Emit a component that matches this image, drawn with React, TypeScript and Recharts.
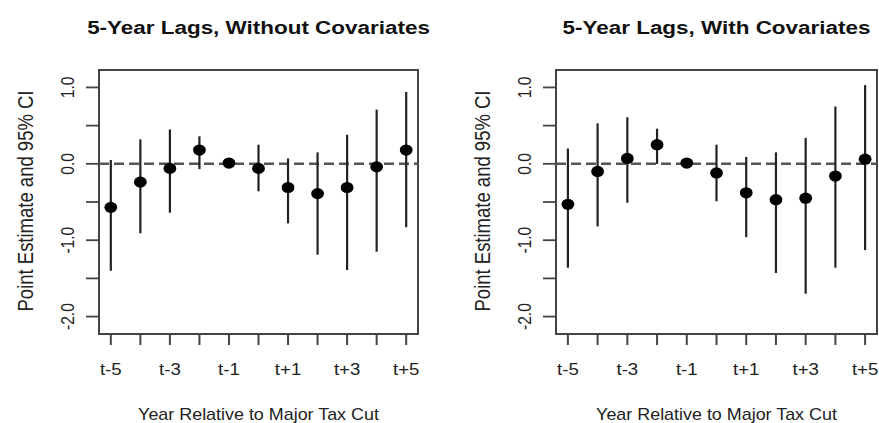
import React from 'react';
import {
  ComposedChart,
  Scatter,
  ErrorBar,
  XAxis,
  YAxis,
  ReferenceLine,
  ReferenceArea,
} from 'recharts';

// Categories (years relative to the major tax cut)
const categories = ['t-5', 't-4', 't-3', 't-2', 't-1', 't', 't+1', 't+2', 't+3', 't+4', 't+5'];
const yearOffsets = [-5, -4, -3, -2, -1, 0, 1, 2, 3, 4, 5];

// Panel 1: without covariates
const estNoCov = [-0.57, -0.24, -0.06, 0.18, 0.01, -0.06, -0.31, -0.39, -0.31, -0.04, 0.18];
const loNoCov = [-1.4, -0.91, -0.64, -0.07, 0.01, -0.36, -0.78, -1.19, -1.39, -1.15, -0.83];
const hiNoCov = [0.05, 0.32, 0.45, 0.36, 0.01, 0.25, 0.07, 0.15, 0.38, 0.71, 0.94];

// Panel 2: with covariates
const estCov = [-0.53, -0.1, 0.07, 0.25, 0.01, -0.12, -0.38, -0.47, -0.45, -0.16, 0.06];
const loCov = [-1.36, -0.82, -0.51, 0.0, 0.01, -0.49, -0.96, -1.43, -1.7, -1.36, -1.13];
const hiCov = [0.2, 0.53, 0.61, 0.46, 0.01, 0.25, 0.09, 0.15, 0.34, 0.75, 1.03];

const yTicks = [-2, -1.5, -1, -0.5, 0, 0.5, 1];
const titles = ['5-Year Lags, Without Covariates', '5-Year Lags, With Covariates'];
const xLabel = 'Year Relative to Major Tax Cut';
const yLabel = 'Point Estimate and 95% CI';

const FONT = '"Liberation Sans", Arial, sans-serif';
const SX = 1.2; // horizontal stretch of the reference (rotated text)
const X_DOMAIN: [number, number] = [-5.4, 5.4];
const Y_DOMAIN: [number, number] = [-2.228, 1.228];

function buildRows(est: number[], lo: number[], hi: number[]) {
  return yearOffsets.map((x, i) => ({
    x,
    label: categories[i],
    est: est[i],
    err: [est[i] - lo[i], hi[i] - est[i]],
  }));
}

const XTick = (props: any) => {
  const { x, y, index } = props;
  if (index % 2 !== 0) return <g />;
  return (
    <text
      transform={`translate(${x},${y + 30}) scale(1.13,1)`}
      textAnchor="middle"
      fontFamily={FONT}
      fontSize={16.5}
      fill="#222"
    >
      {categories[index]}
    </text>
  );
};

const YTick = (props: any) => {
  const { x, y, payload } = props;
  const v = payload.value as number;
  if (!Number.isInteger(v)) return <g />;
  return (
    <text
      transform={`translate(${x - 12},${y}) scale(${SX},1) rotate(-90)`}
      textAnchor="middle"
      fontFamily={FONT}
      fontSize={15.6}
      fill="#222"
    >
      {v.toFixed(1)}
    </text>
  );
};

const Dot = (props: any) => {
  const { cx, cy } = props;
  return <ellipse cx={cx} cy={cy} rx={6.4} ry={5.6} fill="#000" />;
};

function Panel({ rows, left, rightMargin }: { rows: any[]; left: number; rightMargin: number }) {
  return (
    <div style={{ position: 'absolute', left, top: 0 }}>
      <ComposedChart
        width={440}
        height={423}
        data={rows}
        margin={{ top: 70, right: rightMargin, bottom: 0, left: 0 }}
      >
        <XAxis
          dataKey="x"
          type="number"
          domain={X_DOMAIN}
          ticks={yearOffsets}
          allowDataOverflow
          interval={0}
          height={89}
          tickSize={11}
          tickMargin={0}
          axisLine={false}
          tickLine={{ stroke: '#444', strokeWidth: 2 }}
          tick={<XTick />}
        />
        <YAxis
          type="number"
          domain={Y_DOMAIN}
          ticks={yTicks}
          allowDataOverflow
          interval={0}
          width={99}
          tickSize={13}
          tickMargin={0}
          axisLine={false}
          tickLine={{ stroke: '#444', strokeWidth: 1.8 }}
          tick={<YTick />}
        />
        <ReferenceArea
          x1={X_DOMAIN[0]}
          x2={X_DOMAIN[1]}
          y1={Y_DOMAIN[0]}
          y2={Y_DOMAIN[1]}
          fill="none"
          fillOpacity={0}
          stroke="#444"
          strokeWidth={2}
          ifOverflow="visible"
        />
        <ReferenceLine y={0} stroke="#555" strokeWidth={2.4} strokeDasharray="10 5" />
        <Scatter dataKey="est" shape={<Dot />} isAnimationActive={false}>
          <ErrorBar dataKey="err" direction="y" width={0} stroke="#222" strokeWidth={2.2} isAnimationActive={false} />
        </Scatter>
      </ComposedChart>
    </div>
  );
}

export default function App() {
  const rows1 = buildRows(estNoCov, loNoCov, hiNoCov);
  const rows2 = buildRows(estCov, loCov, hiCov);
  const panels = [
    { left: 0, rm: 22 },
    { left: 457, rm: 20 },
  ];
  return (
    <div style={{ position: 'absolute', left: 0, top: 0, width: 879, height: 423, background: '#fff' }}>
      <Panel rows={rows1} left={0} rightMargin={22} />
      <Panel rows={rows2} left={457} rightMargin={20} />
      <svg
        width={879}
        height={423}
        style={{ position: 'absolute', left: 0, top: 0, pointerEvents: 'none' }}
      >
        {panels.map((p, i) => {
          const cx = p.left + (99 + 440 - p.rm) / 2;
          return (
            <g key={i}>
              <text
                transform={`translate(${cx},33.5) scale(1.17,1)`}
                textAnchor="middle"
                fontFamily={FONT}
                fontWeight="bold"
                fontSize={19.2}
                fill="#111"
              >
                {titles[i]}
              </text>
              <text
                transform={`translate(${cx},419.5) scale(1.12,1)`}
                textAnchor="middle"
                fontFamily={FONT}
                fontSize={16}
                fill="#222"
              >
                {xLabel}
              </text>
              <text
                transform={`translate(${p.left + 33},201) scale(${SX},1) rotate(-90)`}
                textAnchor="middle"
                fontFamily={FONT}
                fontSize={18.5}
                fill="#222"
              >
                {yLabel}
              </text>
            </g>
          );
        })}
      </svg>
    </div>
  );
}
